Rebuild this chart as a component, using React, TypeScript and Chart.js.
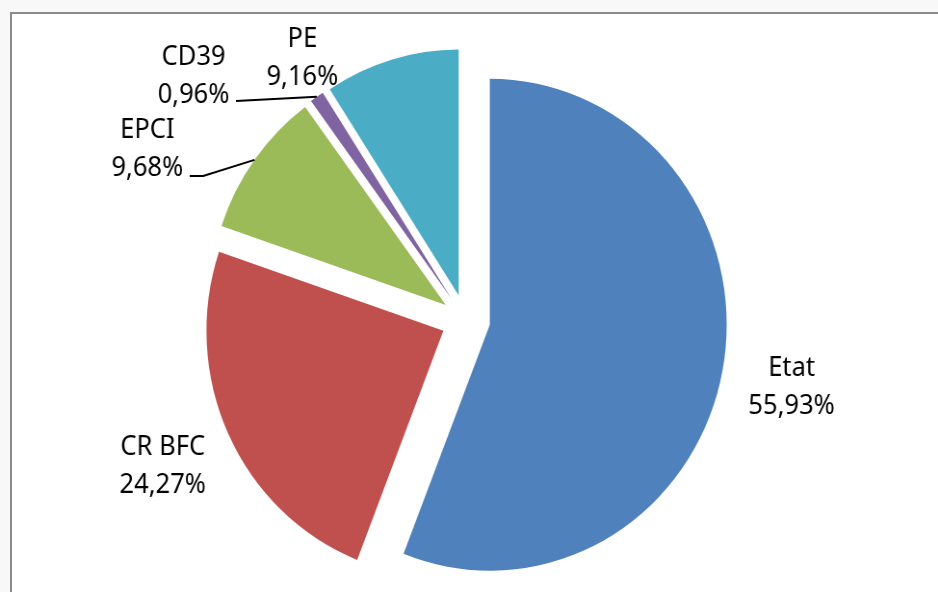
import React, { useEffect, useRef } from "react";
import { Chart, registerables } from "chart.js";

Chart.register(...registerables);

// ---- data ----
const categories = ["Etat", "CR BFC", "EPCI", "CD39", "PE"];
const shares = [55.93, 24.27, 9.68, 0.96, 9.16];
const percentLabels = ["55,93%", "24,27%", "9,68%", "0,96%", "9,16%"];

// ---- style ----
const sliceColors = ["#4F81BD", "#C0504D", "#9BBB59", "#8064A2", "#4BACC6"];
const CANVAS_W = 974; // drawn wide, then squeezed horizontally to 938 (as in the reference)
const CANVAS_H = 592;
const SQUEEZE = 938 / CANVAS_W;
const EXPLODE = 25.5; // px each slice is pulled out
const RADIUS = 246;
const FONT = "26.5px 'Noto Sans', 'Open Sans', sans-serif";
const LINE_GAP = 38;
// label anchors (canvas coords): [centre x, first baseline y]
const labelAnchors: [number, number][] = [
  [822, 376],
  [169, 455],
  [153, 138],
  [201, 65],
  [314, 47],
];
// leader lines: points before reaching the slice (null = none)
const leaderStarts: ([number, number][] | null)[] = [
  null,
  null,
  [
    [197, 176],
    [211, 176],
  ],
  [[245, 101]],
  null,
];

// explode every slice by the same distance along its bisector
const explodePlugin = {
  id: "explode",
  beforeDatasetsDraw(chart: any) {
    const { chartArea } = chart;
    const cx = (chartArea.left + chartArea.right) / 2;
    const cy = (chartArea.top + chartArea.bottom) / 2;
    const meta = chart.getDatasetMeta(0);
    meta.data.forEach((arc: any) => {
      const half = (arc.startAngle + arc.endAngle) / 2;
      arc.x = cx + Math.cos(half) * EXPLODE;
      arc.y = cy + Math.sin(half) * EXPLODE;
    });
  },
};

const labelPlugin = {
  id: "sliceLabels",
  afterDatasetsDraw(chart: any) {
    const ctx: CanvasRenderingContext2D = chart.ctx;
    const meta = chart.getDatasetMeta(0);
    ctx.save();
    ctx.strokeStyle = "#000";
    ctx.lineWidth = 2;
    meta.data.forEach((arc: any, i: number) => {
      const pts = leaderStarts[i];
      if (!pts) return;
      const half = (arc.startAngle + arc.endAngle) / 2;
      const ex = arc.x + Math.cos(half) * arc.outerRadius;
      const ey = arc.y + Math.sin(half) * arc.outerRadius;
      ctx.beginPath();
      ctx.moveTo(pts[0][0], pts[0][1]);
      for (let k = 1; k < pts.length; k++) ctx.lineTo(pts[k][0], pts[k][1]);
      ctx.lineTo(ex, ey);
      ctx.stroke();
    });
    ctx.font = FONT;
    ctx.fillStyle = "#000";
    ctx.textAlign = "center";
    ctx.textBaseline = "alphabetic";
    categories.forEach((name, i) => {
      const [lx, ly] = labelAnchors[i];
      ctx.fillText(name, lx, ly);
      ctx.fillText(percentLabels[i], lx, ly + LINE_GAP);
    });
    ctx.restore();
  },
};

export default function App() {
  const canvasRef = useRef<HTMLCanvasElement | null>(null);

  useEffect(() => {
    if (!canvasRef.current) return;
    const chart = new Chart(canvasRef.current, {
      type: "pie",
      data: {
        labels: categories,
        datasets: [
          {
            data: shares,
            backgroundColor: sliceColors,
            borderWidth: 0,
            radius: RADIUS,
            clip: false,
            offset: 0,
          } as any,
        ],
      },
      options: {
        responsive: false,
        animation: false,
        events: [],
        layout: { padding: { left: 0, right: CANVAS_W - 967, top: 48, bottom: 0 } },
        plugins: {
          legend: { display: false },
          tooltip: { enabled: false },
        },
      },
      plugins: [explodePlugin, labelPlugin],
    });
    return () => chart.destroy();
  }, []);

  return (
    <div
      style={{
        position: "fixed",
        left: 0,
        top: 0,
        width: 938,
        height: 592,
        background: "#f8f8f8",
        overflow: "hidden",
      }}
    >
      <div
        style={{
          position: "absolute",
          left: 10,
          top: 12,
          width: 960,
          height: 620,
          border: "2px solid #8a8a8a",
          background: "#ffffff",
        }}
      />
      <canvas
        ref={canvasRef}
        width={CANVAS_W}
        height={CANVAS_H}
        style={{
          position: "absolute",
          left: 0,
          top: 0,
          width: CANVAS_W,
          height: CANVAS_H,
          transform: `scaleX(${SQUEEZE})`,
          transformOrigin: "0 0",
        }}
      />
    </div>
  );
}
